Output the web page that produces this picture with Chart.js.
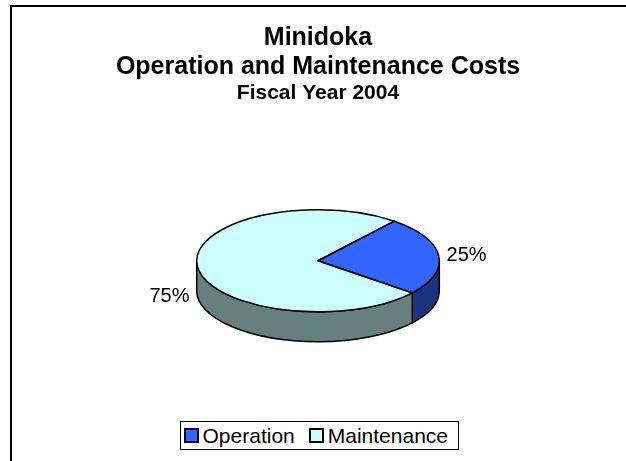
<!DOCTYPE html>
<html>
<head>
<meta charset="utf-8">
<script src="https://cdn.jsdelivr.net/npm/chart.js@4.4.0/dist/chart.umd.min.js"></script>
<style>
  html, body { margin: 0; padding: 0; background: #fff; }
  #wrap { position: relative; width: 626px; height: 461px; overflow: hidden; }
  #frame {
    position: absolute; left: 10px; top: 5px; width: 700px; height: 600px;
    border: 2px solid #000; box-sizing: border-box; pointer-events: none;
  }
  #legend {
    position: absolute; right: 167px; top: 421px; height: 29px; box-sizing: border-box;
    border: 1px solid #000; background: #fff; display: flex; align-items: center;
    padding: 0 10px 0 3px; font: 21px "Liberation Sans", Arial, sans-serif; color: #000;
  }
  .item { display: flex; align-items: center; margin-right: 14px; }
  .item:last-child { margin-right: 0; }
  .swatch { width: 11px; height: 11px; border: 2px solid #000; margin-right: 4px; }
</style>
</head>
<body>
<div id="wrap">
  <canvas id="pieChart" width="626" height="461"></canvas>
  <div id="frame"></div>
  <div id="legend"></div>
</div>
<script>
const categories = ["Operation", "Maintenance"];
const costShares = [25, 75];
const topColors = ["#3366FF", "#CCFFFF"];
const sideColors = ["#1A3380", "#668080"];
const titleLines = ["Minidoka", "Operation and Maintenance Costs"];
const subtitleText = "Fiscal Year 2004";

// look of the fake 3d pie
const RADIUS = 121.3;
const TILT = 0.42;
const DEPTH = 30;
const FONT = "'Liberation Sans', Arial, sans-serif";

Chart.defaults.font.family = FONT;

function frontParts(a, b) {
  // pieces of [a, b] that face the viewer (0..PI, mod 2PI)
  const parts = [];
  for (let k = -1; k <= 1; k++) {
    const lo = Math.max(a, 2 * Math.PI * k);
    const hi = Math.min(b, 2 * Math.PI * k + Math.PI);
    if (hi > lo) parts.push([lo, hi]);
  }
  return parts;
}

const pie3d = {
  id: "pie3d",
  beforeDatasetsDraw(chart) {
    const ctx = chart.ctx;
    const arcs = chart.getDatasetMeta(0).data;
    const cx = arcs[0].x, cy = arcs[0].y;
    const rx = arcs[0].outerRadius, ry = rx * TILT;

    ctx.save();
    ctx.lineWidth = 1.5;
    ctx.strokeStyle = "#000";
    arcs.forEach((arc, i) => {
      frontParts(arc.startAngle, arc.endAngle).forEach(([a, b]) => {
        ctx.beginPath();
        ctx.ellipse(cx, cy, rx, ry, 0, a, b);
        ctx.ellipse(cx, cy + DEPTH, rx, ry, 0, b, a, true);
        ctx.closePath();
        ctx.fillStyle = sideColors[i];
        ctx.fill();
        ctx.stroke();
      });
    });
    ctx.restore();

    // squash the top face
    ctx.save();
    ctx.translate(cx, cy);
    ctx.scale(1, TILT);
    ctx.translate(-cx, -cy);
  },
  afterDatasetsDraw(chart) {
    const ctx = chart.ctx;
    ctx.restore();

    const arcs = chart.getDatasetMeta(0).data;
    const cx = arcs[0].x, cy = arcs[0].y;
    const rx = arcs[0].outerRadius, ry = rx * TILT;
    const total = costShares.reduce((s, v) => s + v, 0);

    ctx.save();
    ctx.lineWidth = 1.5;
    ctx.strokeStyle = "#000";
    ctx.lineJoin = "round";
    arcs.forEach((arc) => {
      ctx.beginPath();
      ctx.moveTo(cx, cy);
      ctx.ellipse(cx, cy, rx, ry, 0, arc.startAngle, arc.endAngle);
      ctx.closePath();
      ctx.stroke();
    });

    ctx.font = "20px " + FONT;
    ctx.fillStyle = "#000";
    ctx.textBaseline = "middle";
    arcs.forEach((arc, i) => {
      const mid = (arc.startAngle + arc.endAngle) / 2;
      const cos = Math.cos(mid), sin = Math.sin(mid);
      const x = cx + (rx + 8) * cos;
      const y = cy + ry * sin + (sin > 0 ? DEPTH : 0);
      ctx.textAlign = cos >= 0 ? "left" : "right";
      ctx.fillText(Math.round(costShares[i] / total * 100) + "%", x, y);
    });
    ctx.restore();
  }
};

const chart = new Chart(document.getElementById("pieChart").getContext("2d"), {
  type: "pie",
  data: {
    labels: categories,
    datasets: [
      {
        data: costShares,
        backgroundColor: topColors,
        borderWidth: 0
      }
    ]
  },
  options: {
    responsive: false,
    animation: false,
    events: [],
    rotation: 39,
    radius: RADIUS,
    layout: {
      padding: { left: 10, right: 0, top: 0, bottom: 45 }
    },
    plugins: {
      legend: { display: false },
      tooltip: { enabled: false },
      title: {
        display: true,
        text: titleLines,
        color: "#000",
        font: { size: 25, weight: "bold", lineHeight: 1.144 },
        padding: { top: 24, bottom: 0 }
      },
      subtitle: {
        display: true,
        text: subtitleText,
        color: "#000",
        font: { size: 21, weight: "bold", lineHeight: 1.16 },
        padding: { top: 0, bottom: 0 }
      }
    }
  },
  plugins: [pie3d]
});

// html legend built from the chart's own legend items
const legendEl = document.getElementById("legend");
chart.options.plugins.legend.labels.generateLabels(chart).forEach((item) => {
  const row = document.createElement("div");
  row.className = "item";
  const box = document.createElement("span");
  box.className = "swatch";
  box.style.background = item.fillStyle;
  const label = document.createElement("span");
  label.textContent = item.text;
  row.appendChild(box);
  row.appendChild(label);
  legendEl.appendChild(row);
});
</script>
</body>
</html>
